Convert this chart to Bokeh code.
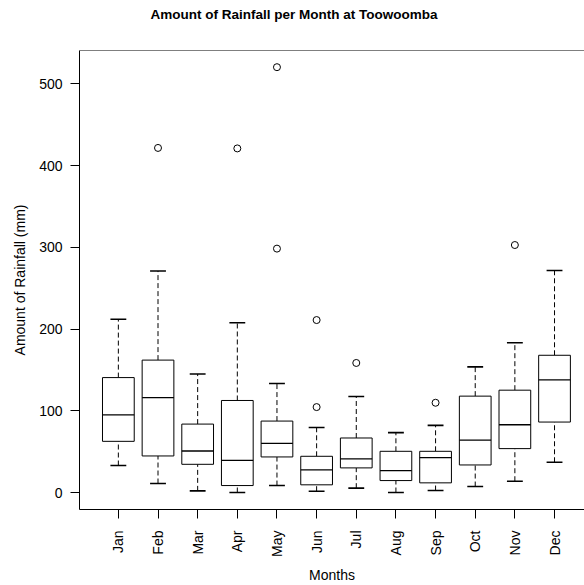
from bokeh.plotting import figure
from bokeh.models import Range1d, FixedTicker, Span, ColumnDataSource
from bokeh.embed import file_html
from bokeh.resources import INLINE
import math

months = ["Jan", "Feb", "Mar", "Apr", "May", "Jun", "Jul", "Aug", "Sep", "Oct", "Nov", "Dec"]
whisk_lo = [33, 11, 2, 0, 8.5, 1.6, 5.3, 0, 2.4, 7.3, 13.8, 37]
q1 = [62.6, 44.7, 34.5, 8.5, 43.5, 9.4, 30.1, 14.6, 11.8, 33.7, 53.7, 86.2]
median = [95, 116.2, 50.8, 39.4, 60.2, 27.6, 41.1, 26.8, 42.7, 64.2, 82.9, 137.8]
q3 = [140.6, 162, 83.7, 112.6, 87.4, 44.3, 66.7, 50.4, 50.4, 117.9, 125.2, 167.9]
whisk_hi = [212, 271, 145, 207.7, 133.3, 79.6, 117.4, 73.2, 82.1, 153.7, 183.3, 271.6]
out_month = [2, 4, 5, 5, 6, 6, 7, 9, 11]
out_value = [421.6, 421, 520.4, 298.4, 211, 104.5, 158.5, 109.8, 302.8]
y_ticks = [0, 100, 200, 300, 400, 500]
title_text = "Amount of Rainfall per Month at Toowoomba"

FONT = "Liberation Sans"
xs = list(range(1, len(months) + 1))
src = ColumnDataSource(dict(
    x=xs, left=[x - 0.4 for x in xs], right=[x + 0.4 for x in xs],
    sl=[x - 0.2 for x in xs], sr=[x + 0.2 for x in xs],
    lo=whisk_lo, q1=q1, med=median, q3=q3, hi=whisk_hi))

p = figure(width=584, height=585, x_range=Range1d(0.02, 12.756),
           y_range=Range1d(-20.8, 540.8), output_backend="svg",
           toolbar_location=None, min_border_left=79, min_border_right=0,
           min_border_top=50, min_border_bottom=74)
p.outline_line_color = None
p.grid.visible = False
p.background_fill_color = "white"
p.border_fill_color = "white"

# a blank second line lifts the title line towards the top of the page
p.title.text = title_text + "\n "
p.title.text_font = FONT
p.title.text_font_size = "13.5px"
p.title.text_font_style = "bold"
p.title.text_color = "black"
p.title.text_line_height = 1.5
p.title.align = "left"
p.title.offset = 71
p.title.vertical_align = "top"
p.title.standoff = 8

# whiskers (dashed)
p.segment(x0="x", y0="q3", x1="x", y1="hi", source=src, line_color="black",
          line_width=1, line_dash="5 3")
p.segment(x0="x", y0="lo", x1="x", y1="q1", source=src, line_color="black",
          line_width=1, line_dash="5 3")
# staples
p.segment(x0="sl", y0="hi", x1="sr", y1="hi", source=src, line_color="black", line_width=1.6)
p.segment(x0="sl", y0="lo", x1="sr", y1="lo", source=src, line_color="black", line_width=1.6)
# boxes
p.quad(left="left", right="right", bottom="q1", top="q3", source=src,
       fill_color="white", line_color="black", line_width=1)
# medians
p.segment(x0="left", y0="med", x1="right", y1="med", source=src, line_color="black", line_width=1.3)
# outliers
p.scatter(x=out_month, y=out_value, marker="circle", size=7, fill_color=None,
          line_color="black", line_width=1)

# top border
p.add_layout(Span(location=540.8, dimension="width", line_color="black", line_width=1))

# x axis
xa = p.xaxis[0]
xa.ticker = FixedTicker(ticks=xs)
xa.major_label_overrides = {i + 1: m for i, m in enumerate(months)}
xa.major_label_orientation = math.pi / 2
xa.minor_tick_line_color = None
xa.major_tick_in = 0
xa.major_tick_out = 9
xa.major_label_standoff = 12
xa.axis_label = "Months"
xa.axis_label_standoff = 7
for ax in (p.xaxis[0], p.yaxis[0]):
    ax.axis_line_color = "black"
    ax.major_tick_line_color = "black"
    ax.major_label_text_font = FONT
    ax.major_label_text_font_size = "14px"
    ax.major_label_text_color = "black"
    ax.axis_label_text_font = FONT
    ax.axis_label_text_font_size = "14px"
    ax.axis_label_text_font_style = "normal"
    ax.axis_label_text_color = "black"

ya = p.yaxis[0]
ya.ticker = FixedTicker(ticks=y_ticks)
ya.minor_tick_line_color = None
ya.major_tick_in = 0
ya.major_tick_out = 9
ya.major_label_standoff = 8
ya.major_label_orientation = "horizontal"
ya.axis_label = "Amount of Rainfall (mm)"
ya.axis_label_standoff = 8

open("out.html", "w").write(file_html(p, INLINE))
